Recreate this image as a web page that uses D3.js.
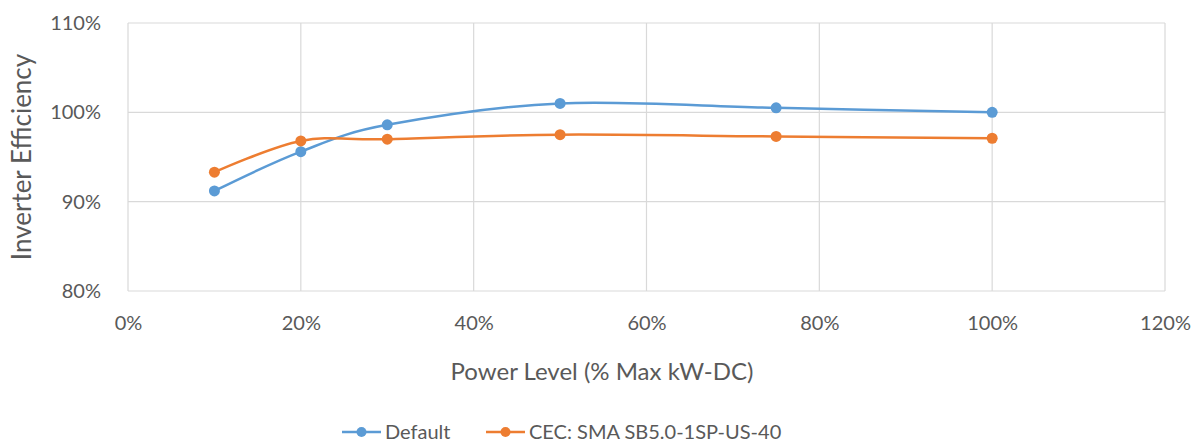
<!DOCTYPE html>
<html>
<head>
<meta charset="utf-8">
<script src="https://cdn.jsdelivr.net/npm/d3@7"></script>
<style>
  html, body { margin: 0; padding: 0; background: #fff; }
  svg { display: block; }
  text { font-family: Lato, "Open Sans", sans-serif; fill: #595959; }
</style>
</head>
<body>
<svg id="chart" width="1204" height="445"></svg>
<script>
// Power level (% of max kW-DC) at which efficiency was measured
const powerLevels = [10, 20, 30, 50, 75, 100];
// Inverter efficiency (%) for each power level
const defaultEff = [91.2, 95.6, 98.6, 101.0, 100.5, 100.0];
const cecEff = [93.3, 96.8, 97.0, 97.5, 97.3, 97.1];
const seriesNames = ["Default", "CEC: SMA SB5.0-1SP-US-40"];
const xTicks = [0, 20, 40, 60, 80, 100, 120];
const yTicks = [80, 90, 100, 110];

const colors = ["#5B9BD5", "#ED7D31"];
const svg = d3.select("#chart");
const W = 1204;

const plot = { left: 128, right: 1165, top: 23, bottom: 291 };
const x = d3.scaleLinear().domain([0, 120]).range([plot.left, plot.right]);
const y = d3.scaleLinear().domain([80, 110]).range([plot.bottom, plot.top]);

// Gridlines
const grid = svg.append("g");
grid.selectAll("line.h").data(yTicks).join("line")
  .attr("x1", plot.left).attr("x2", plot.right)
  .attr("y1", d => y(d)).attr("y2", d => y(d))
  .attr("stroke", "#d9d9d9").attr("stroke-width", 1.2);
grid.selectAll("line.v").data(xTicks).join("line")
  .attr("y1", plot.top).attr("y2", plot.bottom)
  .attr("x1", d => x(d)).attr("x2", d => x(d))
  .attr("stroke", "#d9d9d9").attr("stroke-width", 1.2);

// Tick labels via axes
const yAxis = d3.axisLeft(y).tickValues(yTicks).tickFormat(d => d + "%").tickSize(0).tickPadding(27);
const gy = svg.append("g").attr("transform", `translate(${plot.left},0)`).call(yAxis);
gy.select(".domain").remove();
gy.selectAll("text").style("font-size", "20px").attr("fill", "#595959");

const xAxis = d3.axisBottom(x).tickValues(xTicks).tickFormat(d => d + "%").tickSize(0).tickPadding(25);
const gx = svg.append("g").attr("transform", `translate(0,${plot.bottom})`).call(xAxis);
gx.select(".domain").remove();
gx.selectAll("text").style("font-size", "20px").attr("fill", "#595959");

// Axis titles
svg.append("text")
  .attr("x", W / 2).attr("y", 380)
  .attr("text-anchor", "middle").style("font-size", "24px")
  .text("Power Level (% Max kW-DC)");
svg.append("text")
  .attr("transform", `translate(31,${(plot.top + plot.bottom) / 2}) rotate(-90)`)
  .attr("text-anchor", "middle").style("font-size", "26px")
  .text("Inverter Efficiency");

// Series
const series = [defaultEff, cecEff].map((vals, i) => ({
  name: seriesNames[i], color: colors[i],
  points: powerLevels.map((p, j) => ({ x: p, y: vals[j] }))
}));
const line = d3.line().x(d => x(d.x)).y(d => y(d.y)).curve(d3.curveCardinal);

series.forEach(s => {
  svg.append("path").datum(s.points)
    .attr("d", line).attr("fill", "none")
    .attr("stroke", s.color).attr("stroke-width", 2.5);
  svg.append("g").selectAll("circle").data(s.points).join("circle")
    .attr("cx", d => x(d.x)).attr("cy", d => y(d.y)).attr("r", 5.5)
    .attr("fill", s.color);
});

// Legend
const legendY = 432;
const legendItems = [{ x0: 342 }, { x0: 486 }];
series.forEach((s, i) => {
  const lx = legendItems[i].x0;
  svg.append("line").attr("x1", lx).attr("x2", lx + 39)
    .attr("y1", legendY).attr("y2", legendY)
    .attr("stroke", s.color).attr("stroke-width", 2.5);
  svg.append("circle").attr("cx", lx + 19.5).attr("cy", legendY).attr("r", 5).attr("fill", s.color);
  svg.append("text").attr("x", lx + 43).attr("y", legendY).attr("dy", "0.35em")
    .style("font-size", "20px").text(s.name);
});
</script>
</body>
</html>
